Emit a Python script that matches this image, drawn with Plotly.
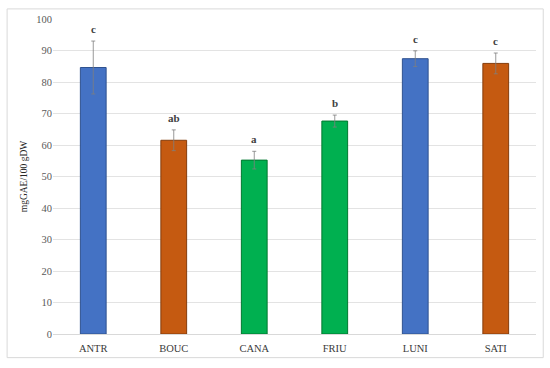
import plotly.graph_objects as go

categories = ["ANTR", "BOUC", "CANA", "FRIU", "LUNI", "SATI"]
values = [84.6, 61.5, 55.2, 67.6, 87.4, 85.9]
errors = [8.4, 3.3, 2.8, 1.9, 2.5, 3.3]
letters = ["c", "ab", "a", "b", "c", "c"]
colors = ["#4472C4", "#C55A11", "#00B050", "#00B050", "#4472C4", "#C55A11"]
edge_colors = ["#2F528F", "#843C0C", "#00782F", "#00782F", "#2F528F", "#843C0C"]
y_ticks = [0, 10, 20, 30, 40, 50, 60, 70, 80, 90, 100]

font_family = "Liberation Serif, DejaVu Serif, serif"

fig = go.Figure()
fig.add_trace(go.Bar(
    x=categories, y=values,
    marker=dict(color=colors, line=dict(color=edge_colors, width=1)),
    error_y=dict(type="data", array=errors, visible=True,
                 color="#7F7F7F", thickness=0.8, width=2),
    width=0.32,
    showlegend=False,
))

for c, v, e, t in zip(categories, values, errors, letters):
    fig.add_annotation(x=c, y=v + e, text="<b>" + t + "</b>", showarrow=False,
                       yanchor="bottom", yshift=4,
                       font=dict(family=font_family, size=11, color="#404040"))

fig.add_shape(type="rect", xref="paper", yref="paper",
              x0=-0.095, x1=1.015, y0=-0.075, y1=1.032,
              line=dict(color="#D9D9D9", width=1), fillcolor="rgba(0,0,0,0)",
              layer="below")

fig.update_layout(
    width=550, height=368,
    margin=dict(l=53, r=14, t=19, b=34, autoexpand=False),
    plot_bgcolor="white", paper_bgcolor="white",
    font=dict(family=font_family, color="#595959"),
    xaxis=dict(showgrid=False, showline=True, linecolor="#D9D9D9", linewidth=1,
               ticks="", tickfont=dict(size=10.5, color="#3A3A3A", family=font_family),
               ticklabelstandoff=4, automargin=False),
    yaxis=dict(range=[0, 100], tickvals=y_ticks, showgrid=True, gridcolor="#E3E3E3",
               gridwidth=1, zeroline=False, showline=False, ticks="",
               tickfont=dict(size=10.5, color="#595959"), automargin=False,
               title=dict(text="mgGAE/100 gDW", font=dict(size=9.5, color="#262626"),
                          standoff=6)),
)

fig.write_html("out.html", post_script="document.body.style.margin='0';",
               config={"displayModeBar": False})
